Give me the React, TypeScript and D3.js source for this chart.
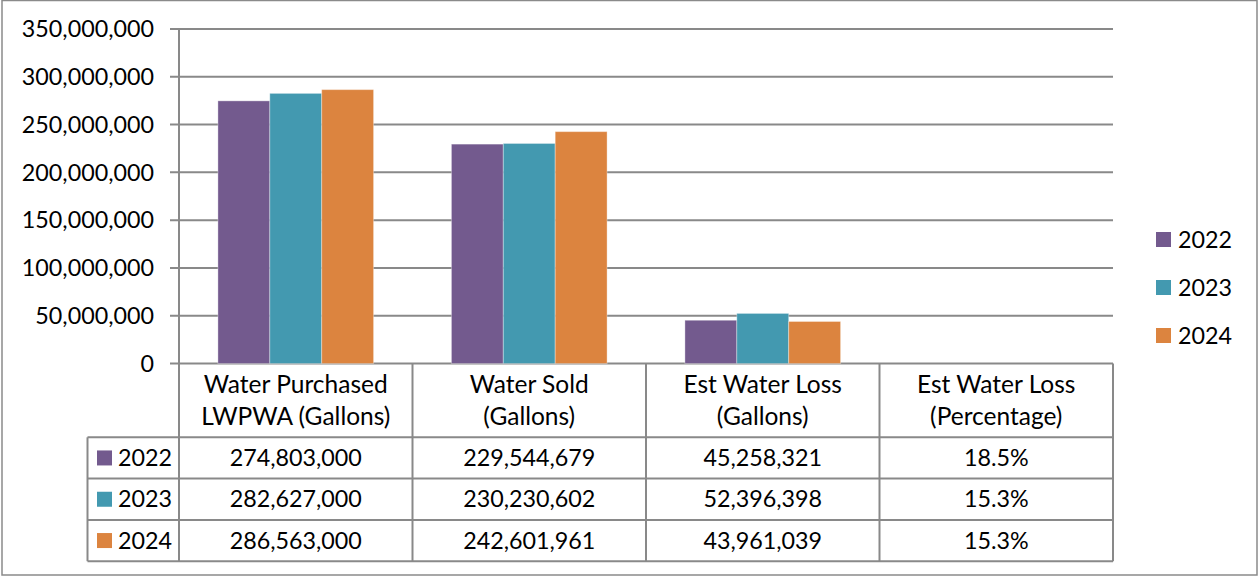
import React from "react";
import * as d3 from "d3";

const categories = [
  ["Water Purchased", "LWPWA (Gallons)"],
  ["Water Sold", "(Gallons)"],
  ["Est Water Loss", "(Gallons)"],
  ["Est Water Loss", "(Percentage)"],
];
const seriesNames = ["2022", "2023", "2024"];
const colors = ["#735A8E", "#4399B0", "#DC843F"];
const values2022 = [274803000, 229544679, 45258321, 0.185];
const values2023 = [282627000, 230230602, 52396398, 0.153];
const values2024 = [286563000, 242601961, 43961039, 0.153];
const labels2022 = ["274,803,000", "229,544,679", "45,258,321", "18.5%"];
const labels2023 = ["282,627,000", "230,230,602", "52,396,398", "15.3%"];
const labels2024 = ["286,563,000", "242,601,961", "43,961,039", "15.3%"];
const yTicks = [0, 50000000, 100000000, 150000000, 200000000, 250000000, 300000000, 350000000];

const series = [values2022, values2023, values2024];
const labels = [labels2022, labels2023, labels2024];

const FONT = "Lato, 'Open Sans', sans-serif";
const FS = 23.3;
const FS_HEAD = 24.5;

export default function App() {
  const left = 179, right = 1113, top = 29, bottom = 363.5;
  const headerBottom = 437.3;
  const rowH = 41.3;
  const tableLeft = 87.5;
  const x0 = d3.scaleBand().domain(d3.range(4).map(String)).range([left, right]).paddingInner(0).paddingOuter(0);
  const bw = x0.bandwidth();
  const barW = bw / 4.5;
  const x1 = d3.scaleBand().domain(seriesNames).range([barW * 0.75, bw - barW * 0.75]).padding(0);
  const y = d3.scaleLinear().domain([0, 350000000]).range([bottom, top]);
  const grid = "#898989";
  return (
    <svg width={1258} height={576} style={{ position: "absolute", left: 0, top: 0 }} fontFamily={FONT}>
      <rect x={0} y={0} width={1258} height={576} fill="#fff" />
      <rect x={2} y={0.5} width={1255} height={574.5} fill="none" stroke="#8a8a8a" strokeWidth={1.5} />
      {yTicks.map((t) => (
        <g key={t}>
          <line x1={170} x2={right} y1={y(t)} y2={y(t)} stroke={grid} strokeWidth={2} />
          <text x={154} y={y(t)} dy="0.35em" textAnchor="end" fontSize={FS} fill="#000">
            {d3.format(",")(t)}
          </text>
        </g>
      ))}
      {series.map((vals, si) =>
        vals.map((v, ci) => (
          <rect
            key={si + "-" + ci}
            x={(x0(String(ci)) as number) + (x1(seriesNames[si]) as number)}
            y={y(v)}
            width={x1.bandwidth()}
            height={bottom - y(v)}
            fill={colors[si]}
            stroke="#ffffff"
            strokeOpacity={0.35}
            strokeWidth={1}
          />
        ))
      )}
      {/* table */}
      <line x1={left} x2={left} y1={top} y2={headerBottom + 3 * rowH} stroke={grid} strokeWidth={2} />
      {d3.range(5).map((i) => {
        const xx = i < 4 ? (x0(String(i)) as number) : right;
        return <line key={"v" + i} x1={xx} x2={xx} y1={bottom} y2={headerBottom + 3 * rowH} stroke={grid} strokeWidth={2} />;
      })}
      {d3.range(4).map((r) => (
        <line key={"h" + r} x1={tableLeft} x2={right} y1={headerBottom + r * rowH} y2={headerBottom + r * rowH} stroke={grid} strokeWidth={2} />
      ))}
      <line x1={tableLeft} x2={tableLeft} y1={headerBottom} y2={headerBottom + 3 * rowH} stroke={grid} strokeWidth={2} />
      {categories.map((c, i) => {
        const cx = (x0(String(i)) as number) + bw / 2;
        return (
          <g key={"c" + i}>
            <text x={cx} y={384} dy="0.35em" textAnchor="middle" fontSize={FS_HEAD}>{c[0]}</text>
            <text x={cx} y={416.5} dy="0.35em" textAnchor="middle" fontSize={FS_HEAD}>{c[1]}</text>
          </g>
        );
      })}
      {labels.map((row, si) => {
        const cy = headerBottom + si * rowH + rowH / 2;
        return (
          <g key={"r" + si}>
            <rect x={97} y={cy - 7.5} width={15} height={15} fill={colors[si]} />
            <text x={118} y={cy} dy="0.35em" fontSize={FS}>{seriesNames[si]}</text>
            {row.map((l, ci) => (
              <text key={ci} x={(x0(String(ci)) as number) + bw / 2} y={cy} dy="0.35em" textAnchor="middle" fontSize={FS}>
                {l}
              </text>
            ))}
          </g>
        );
      })}
      {/* legend */}
      {seriesNames.map((s, i) => {
        const cy = 239.5 + i * 48;
        return (
          <g key={"lg" + s}>
            <rect x={1156} y={cy - 7.5} width={15} height={15} fill={colors[i]} />
            <text x={1178} y={cy} dy="0.35em" fontSize={FS}>{s}</text>
          </g>
        );
      })}
    </svg>
  );
}
